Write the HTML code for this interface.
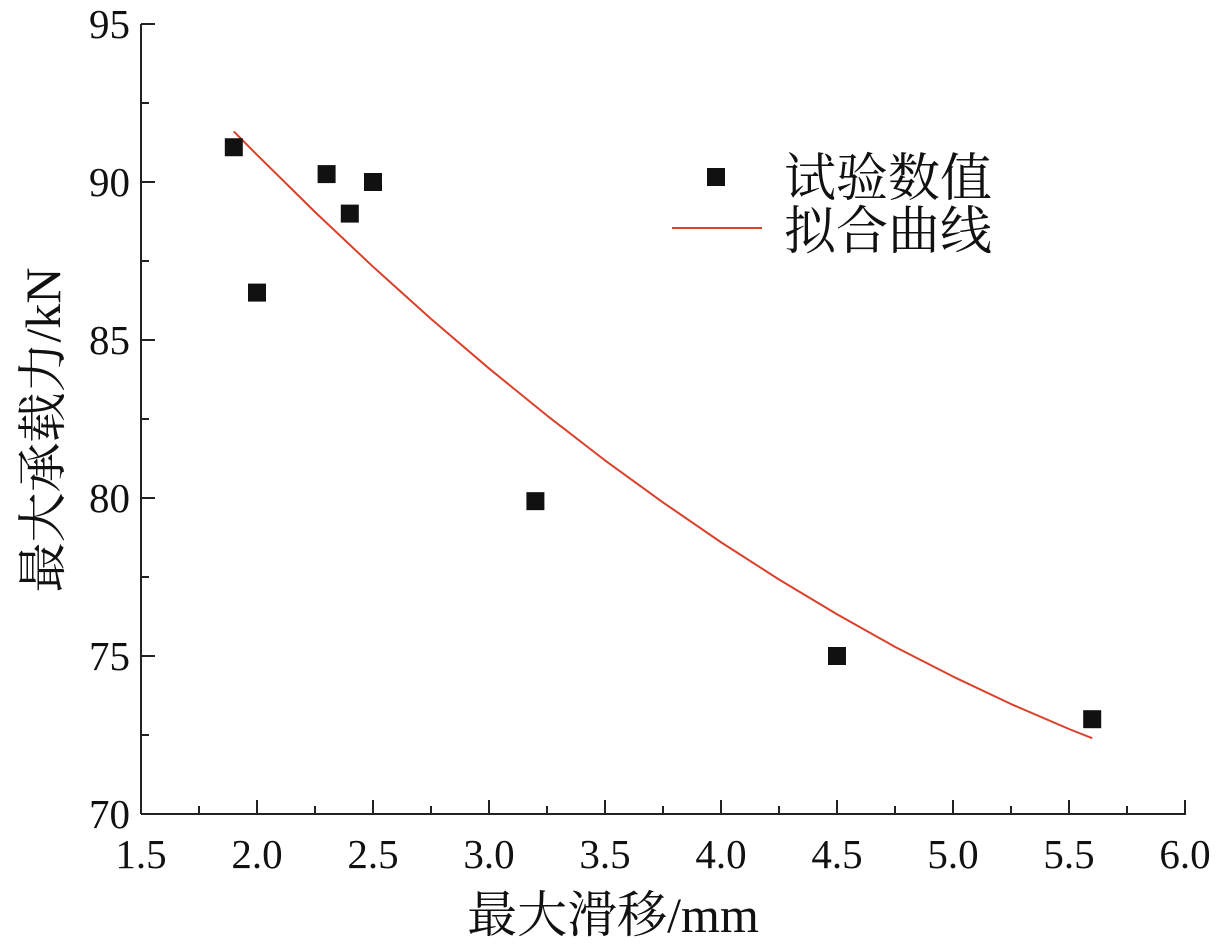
<!DOCTYPE html>
<html><head><meta charset="utf-8"><style>
body{margin:0;background:#fff}
svg text{font-family:"Liberation Serif","Noto Serif CJK SC",serif;fill:#111}
</style></head><body>
<svg id="c" width="1220" height="946"></svg>
<script>
const xTicks=[1.5,2.0,2.5,3.0,3.5,4.0,4.5,5.0,5.5,6.0];
const yTicks=[70,75,80,85,90,95];
const ptX=[1.9,2.0,2.3,2.4,2.5,3.2,4.5,5.6];
const ptY=[91.1,86.5,90.25,89.0,90.0,79.9,75.0,73.0];
const fitX=[1.9,2.0,2.25,2.5,2.75,3.0,3.25,3.5,3.75,4.0,4.25,4.5,4.75,5.0,5.25,5.5,5.6];
const fitY=[91.6,90.86,89.05,87.32,85.67,84.1,82.61,81.19,79.86,78.6,77.42,76.32,75.29,74.35,73.48,72.69,72.4];
const NS='http://www.w3.org/2000/svg',svg=document.getElementById('c');
const X=v=>141+(v-1.5)*232, Y=v=>814-(v-70)*31.6;
function mk(t,a,p){const e=document.createElementNS(NS,t);for(const k in a)e.setAttribute(k,a[k]);(p||svg).appendChild(e);return e;}
const ax=mk('g',{});


mk('line',{x1:141,y1:24,x2:141,y2:814,stroke:'#222','stroke-width':2},ax);
mk('line',{x1:141,y1:814,x2:1186,y2:814,stroke:'#222','stroke-width':2},ax);
xTicks.forEach((v,i)=>{
  mk('line',{x1:X(v),y1:814,x2:X(v),y2:800,stroke:'#222','stroke-width':2},ax);
  if(i<xTicks.length-1)mk('line',{x1:X(v+0.25),y1:814,x2:X(v+0.25),y2:806,stroke:'#222','stroke-width':2},ax);
  const t=mk('text',{x:X(v),y:868,'text-anchor':'middle','font-size':41},ax);t.textContent=v.toFixed(1);
  
  
});
yTicks.forEach((v,i)=>{
  mk('line',{x1:141,y1:Y(v),x2:155,y2:Y(v),stroke:'#222','stroke-width':2},ax);
  if(i<yTicks.length-1)mk('line',{x1:141,y1:Y(v+2.5),x2:149,y2:Y(v+2.5),stroke:'#222','stroke-width':2},ax);
  const t=mk('text',{x:130,y:Y(v)+14,'text-anchor':'end','font-size':41},ax);t.textContent=v;
  
  
});
const xt=mk('text',{x:613,y:932,'text-anchor':'middle','font-size':50});xt.textContent='最大滑移/mm';


const yt=mk('text',{x:0,y:0,'text-anchor':'middle','font-size':50,transform:'translate(60,430) rotate(-90)'});yt.textContent='最大承载力/kN';


const fit=mk('polyline',{points:fitX.map((x,i)=>X(x)+','+Y(fitY[i])).join(' '),fill:'none',stroke:'#d9412b','stroke-width':2,'stroke-linejoin':'round'});


ptX.forEach((x,i)=>{const r=mk('rect',{x:X(x)-9,y:Y(ptY[i])-9,width:18,height:18,fill:'#111'});
  
  });
const lg=mk('g',{});


mk('rect',{x:707,y:168,width:18,height:18,fill:'#111'},lg);
let t=mk('text',{x:784,y:196,'font-size':52},lg);t.textContent='试验数值';
mk('line',{x1:672,y1:228,x2:762,y2:228,stroke:'#d9412b','stroke-width':2},lg);
t=mk('text',{x:784,y:249,'font-size':52},lg);t.textContent='拟合曲线';
</script>
</body></html>
